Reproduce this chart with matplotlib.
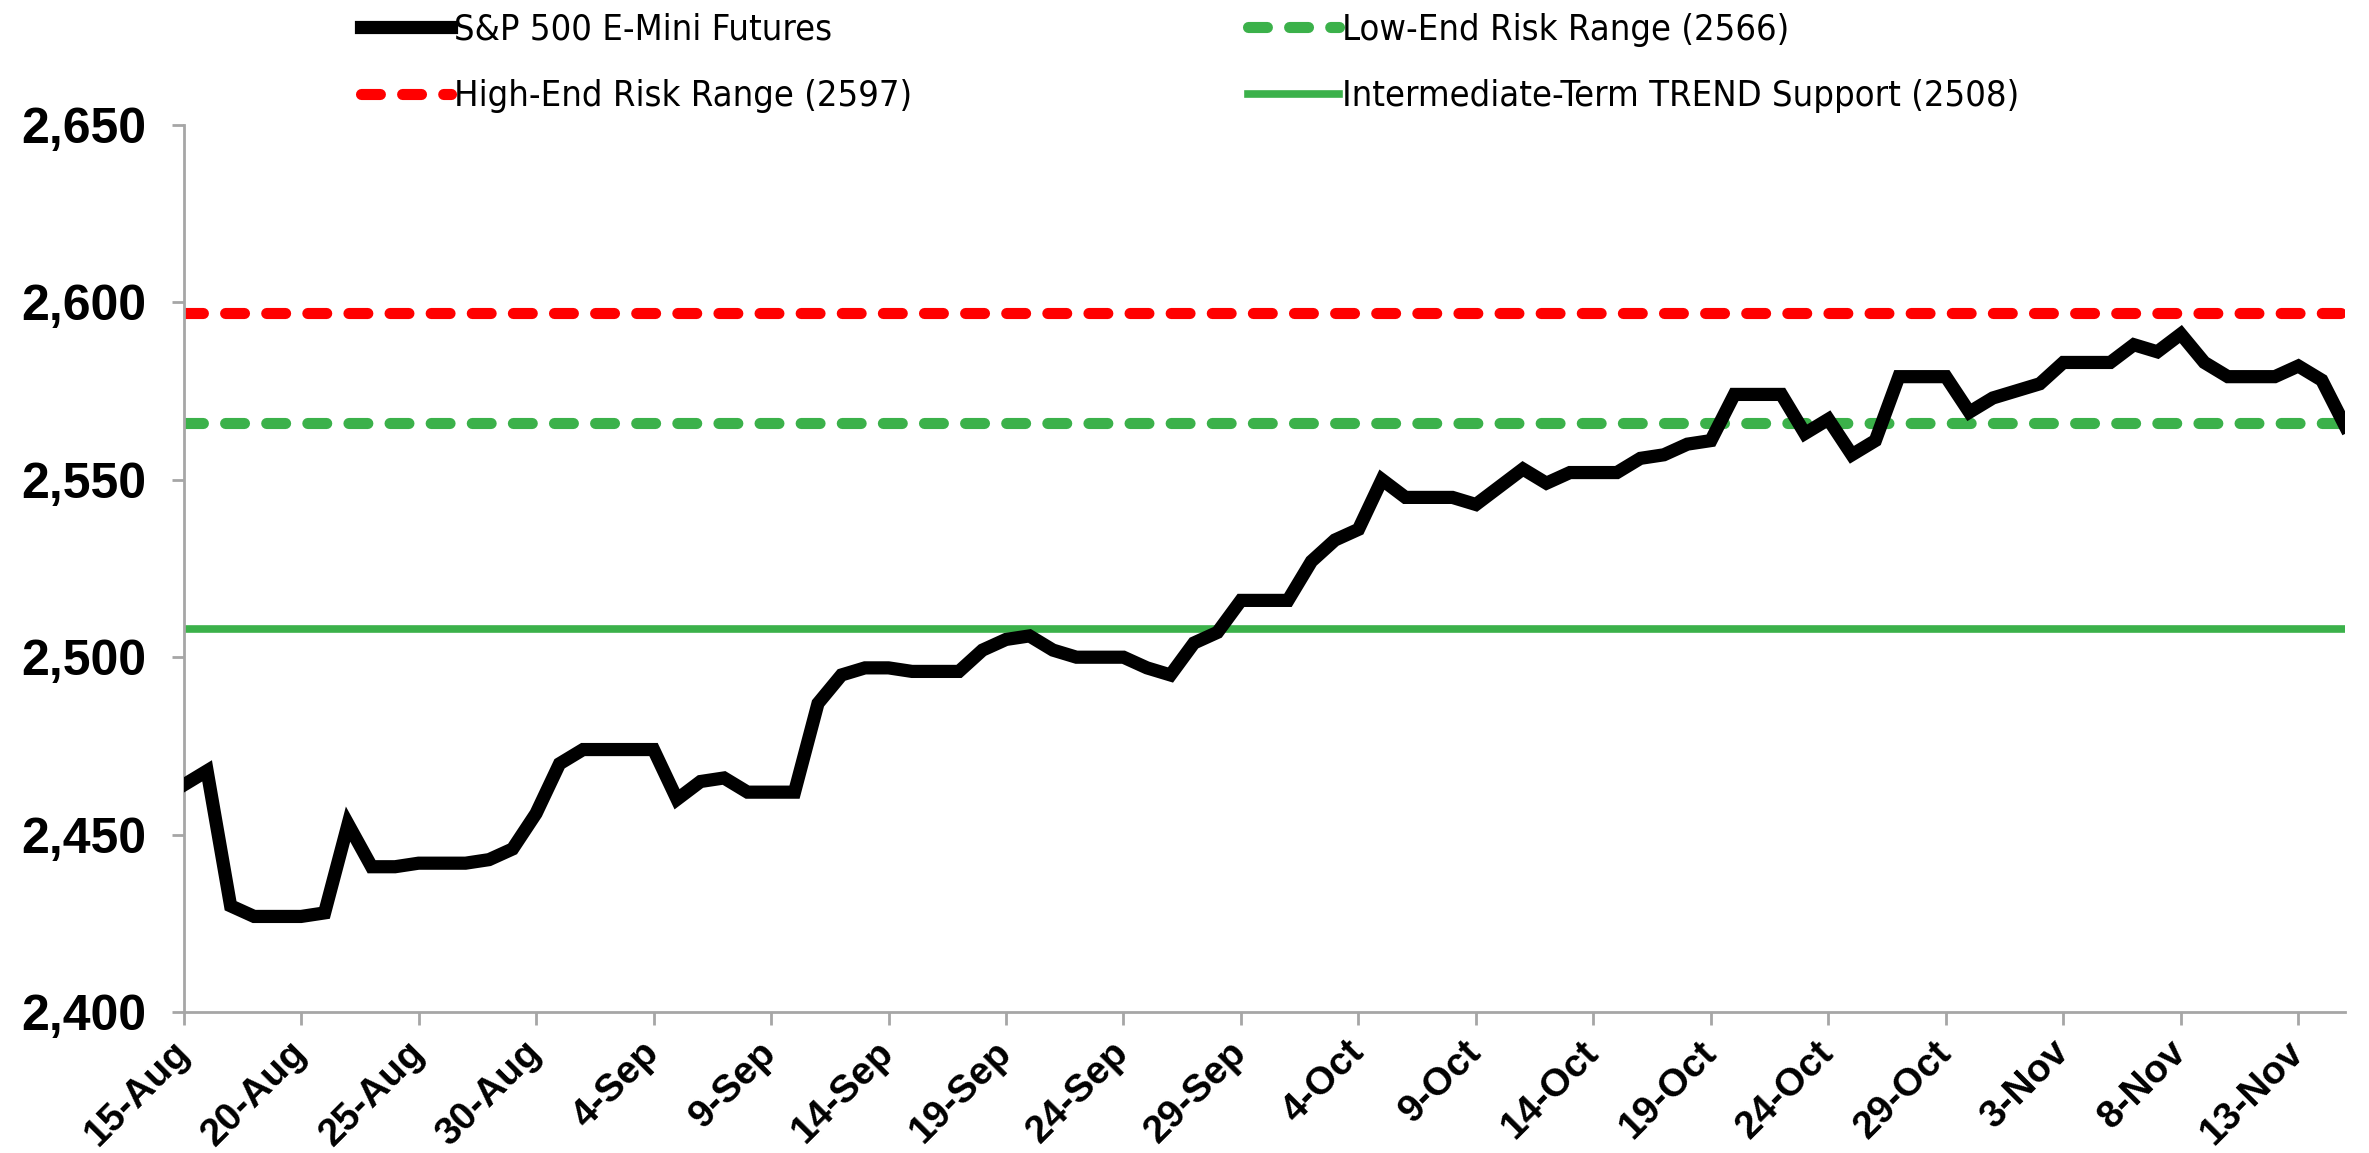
import pandas as pd
import matplotlib
matplotlib.use("Agg")
import matplotlib.pyplot as plt
from matplotlib.ticker import FuncFormatter

# -----------------------------
# data (daily incl. weekends)
# -----------------------------
start_date = "2017-08-15"
end_date = "2017-11-15"

es_aug = [2464, 2468, 2430, 2427, 2427, 2427, 2428, 2453, 2441, 2441,
          2442, 2442, 2442, 2443, 2446, 2456, 2470]
es_sep = [2474, 2474, 2474, 2474, 2460, 2465, 2466, 2462, 2462, 2462,
          2487, 2495, 2497, 2497, 2496, 2496, 2496, 2502, 2505, 2506,
          2502, 2500, 2500, 2500, 2497, 2495, 2504, 2507, 2516, 2516]
es_oct = [2516, 2527, 2533, 2536, 2550, 2545, 2545, 2545, 2543, 2548,
          2553, 2549, 2552, 2552, 2552, 2556, 2557, 2560, 2561, 2574,
          2574, 2574, 2563, 2567, 2557, 2561, 2579, 2579, 2579, 2569,
          2573]
es_nov = [2575, 2577, 2583, 2583, 2583, 2588, 2586, 2591, 2583, 2579,
          2579, 2579, 2582, 2578, 2565]

high_end = 2597
low_end = 2566
trend_support = 2508

labels = ["S&P 500 E-Mini Futures",
          "High-End Risk Range (2597)",
          "Low-End Risk Range (2566)",
          "Intermediate-Term TREND Support (2508)"]

dates = pd.date_range(start_date, end_date, freq="D")
es = es_aug + es_sep + es_oct + es_nov

# -----------------------------
# plot
# -----------------------------
green = "#3bb14a"
red = "#ff0000"

fig = plt.figure(figsize=(23.69, 11.53), dpi=100)
ax = fig.add_axes([0.0775, 0.122, 0.9125, 0.77])

l_es, = ax.plot(dates, es, color="black", lw=9.5, solid_joinstyle="miter", zorder=5)
l_hi = ax.axhline(high_end, color=red, lw=8, dashes=(1.7, 2.0), dash_capstyle="round")
l_lo = ax.axhline(low_end, color=green, lw=8, dashes=(1.7, 2.0), dash_capstyle="round")
l_tr = ax.axhline(trend_support, color=green, lw=5.5)

ax.set_xlim(dates[0], dates[-1])
ax.set_ylim(2400, 2650)
ax.set_yticks(range(2400, 2651, 50))
ax.yaxis.set_major_formatter(FuncFormatter(lambda v, p: f"{int(v):,}"))

ticks = pd.date_range(start_date, end_date, freq="5D")
ax.set_xticks(ticks)
ax.set_xticklabels([f"{d.day}-{d.strftime('%b')}" for d in ticks],
                   rotation=45, ha="right", va="center", rotation_mode="anchor")

for s in ["top", "right"]:
    ax.spines[s].set_visible(False)
for s in ["left", "bottom"]:
    ax.spines[s].set_color("#a6a6a6")
    ax.spines[s].set_linewidth(2)

ax.tick_params(axis="both", color="#a6a6a6", width=2, length=9, direction="out")
ax.tick_params(axis="y", labelsize=36, pad=18)
ax.tick_params(axis="x", labelsize=28, pad=16)
for t in ax.get_yticklabels() + ax.get_xticklabels():
    t.set_fontweight("bold")
    t.set_family(["Liberation Sans", "DejaVu Sans"])

fig.legend([l_es, l_hi, l_lo, l_tr], labels, ncol=2, loc="upper left",
           bbox_to_anchor=(0.1385, 1.017), frameon=False,
           prop={"family": ["Liberation Sans Narrow", "DejaVu Sans"],
                 "stretch": "condensed", "size": 26},
           handlelength=2.5, handletextpad=0.1, columnspacing=9.3,
           labelspacing=0.9)

plt.savefig("out.png", dpi=100)
plt.close()
